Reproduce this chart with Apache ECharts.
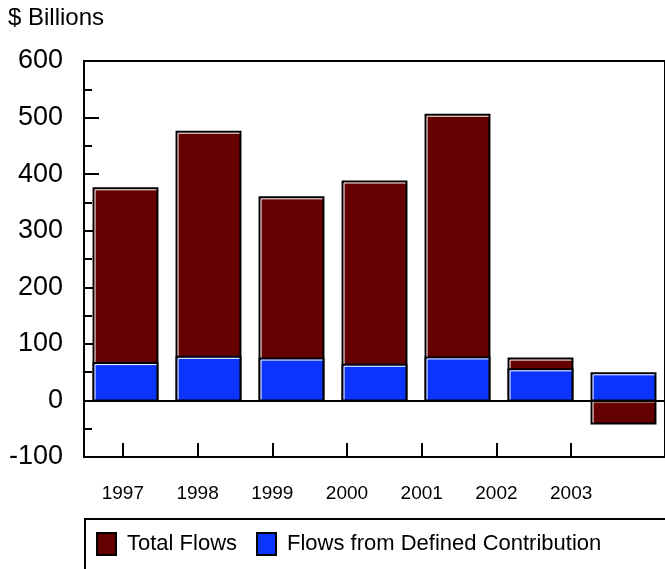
<!DOCTYPE html>
<html>
<head>
<meta charset="utf-8">
<script src="https://cdn.jsdelivr.net/npm/echarts@6/dist/echarts.min.js"></script>
<style>
  html, body { margin: 0; padding: 0; background: #fff; }
  #chart { width: 665px; height: 569px; }
</style>
</head>
<body>
<div id="chart"></div>
<script>
// Annual flows, in billions of dollars
const years = ['1997', '1998', '1999', '2000', '2001', '2002', '2003'];
const totalFlows = [375, 475, 359, 387, 505, 74, -41];
const dcFlows = [66, 77, 74, 63, 76, 55, 48];
const yTicks = { min: -100, max: 600, step: 100 };

const FONT = '"Liberation Sans", Arial, Helvetica, sans-serif';
const MAROON = '#640000';
const BLUE = '#0b35fd';

// Bar with a black outline and a thin white highlight along its top and left edges
function beveledBar(color) {
  return function (params, api) {
    const idx = api.value(0);
    const v = api.value(1);
    const base = api.coord([idx, 0]);
    const tip = api.coord([idx, v]);
    const w = api.size([1, 0])[0] * 0.77;
    const x = base[0] - w / 2;
    const y = Math.min(base[1], tip[1]);
    const h = Math.abs(base[1] - tip[1]);
    return {
      type: 'group',
      children: [
        { type: 'rect', shape: { x: x, y: y, width: w, height: h },
          style: { fill: color, stroke: '#000', lineWidth: 2 } },
        { type: 'polyline',
          shape: { points: [[x + 1.5, y + h - 1], [x + 1.5, y + 1.5], [x + w - 1, y + 1.5]] },
          style: { stroke: '#fff', lineWidth: 1, fill: null } }
      ]
    };
  };
}

const chart = echarts.init(document.getElementById('chart'), null, { renderer: 'canvas' });

chart.setOption({
  animation: false,
  backgroundColor: '#fff',
  textStyle: { fontFamily: FONT },
  grid: [
    { left: 84, top: 61, width: 586, height: 396, show: true,
      borderColor: '#000', borderWidth: 2, backgroundColor: 'transparent' },
    { left: 85.5, top: 61, width: 523, height: 396, show: false }
  ],
  xAxis: [
    { type: 'category', data: years, gridIndex: 0, z: 5,
      axisLine: { onZero: true, lineStyle: { color: '#000', width: 2 } },
      axisTick: { show: false }, axisLabel: { show: false } },
    { type: 'category', data: years, gridIndex: 1, position: 'bottom',
      axisLine: { show: false, onZero: false },
      axisTick: { show: true, inside: true, length: 14, alignWithLabel: true,
                  lineStyle: { color: '#000', width: 2 } },
      axisLabel: { color: '#000', fontSize: 19, margin: 27, fontFamily: FONT } }
  ],
  yAxis: [
    { type: 'value', gridIndex: 0, min: yTicks.min, max: yTicks.max, interval: yTicks.step,
      axisLine: { show: true, lineStyle: { color: '#000', width: 2 } },
      axisTick: { show: true, inside: true, length: 15, lineStyle: { color: '#000', width: 2 } },
      minorTick: { show: true, splitNumber: 2, length: 8, lineStyle: { color: '#000', width: 2 } },
      splitLine: { show: false },
      axisLabel: { color: '#000', fontSize: 27, margin: 21, fontFamily: FONT } },
    { type: 'value', gridIndex: 1, min: yTicks.min, max: yTicks.max, show: false }
  ],
  legend: {
    left: 91, top: 527,
    itemWidth: 19, itemHeight: 22, itemGap: 19,
    icon: 'rect',
    itemStyle: { borderColor: '#000', borderWidth: 2 },
    textStyle: { color: '#000', fontSize: 22, fontFamily: FONT, padding: [0, 0, 0, 6] },
    data: ['Total Flows', 'Flows from Defined Contribution']
  },
  graphic: [
    { type: 'text', left: 8, top: 6,
      style: { text: '$ Billions', fill: '#000', font: '24px ' + FONT } },
    { type: 'rect', shape: { x: 85, y: 519, width: 640, height: 90 },
      style: { fill: null, stroke: '#000', lineWidth: 2 }, silent: true }
  ],
  series: [
    { name: 'Total Flows', type: 'custom', xAxisIndex: 0, yAxisIndex: 0,
      itemStyle: { color: MAROON },
      renderItem: beveledBar(MAROON),
      encode: { x: 0, y: 1 },
      data: totalFlows.map((v, i) => [i, v]) },
    { name: 'Flows from Defined Contribution', type: 'custom', xAxisIndex: 0, yAxisIndex: 0,
      itemStyle: { color: BLUE },
      renderItem: beveledBar(BLUE),
      encode: { x: 0, y: 1 },
      data: dcFlows.map((v, i) => [i, v]) }
  ]
});
</script>
</body>
</html>
